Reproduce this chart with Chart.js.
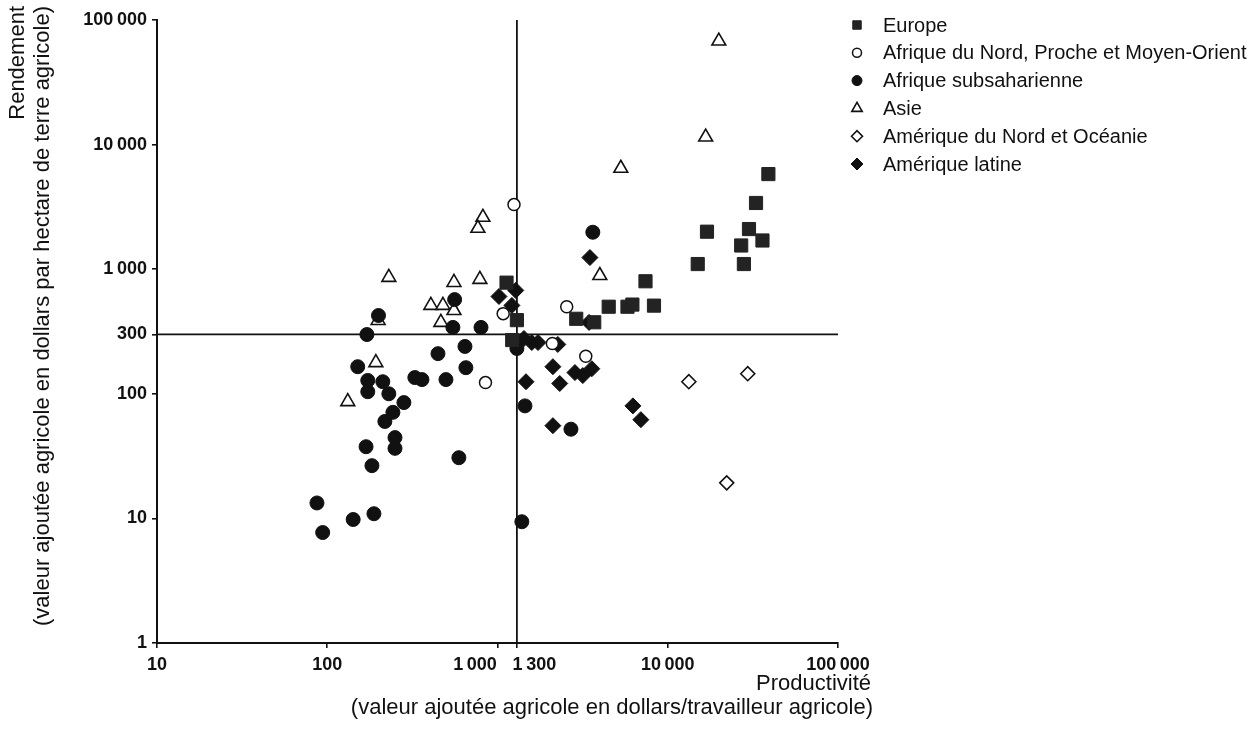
<!DOCTYPE html>
<html lang="fr">
<head>
<meta charset="UTF-8">
<title>Productivité et rendement agricoles</title>
<script src="https://cdn.jsdelivr.net/npm/chart.js"></script>
<style>
  body { margin: 0; background: #fff; }
  #wrap { width: 1258px; height: 749px; position: relative; }
</style>
</head>
<body>
<div id="wrap"><canvas id="chart"></canvas></div>
<script>
// axes (log)
const xTicks = [10, 100, 1000, 1300, 10000, 100000];
const xTickLabels = ['10', '100', '1\u2009000', '1\u2009300', '10\u2009000', '100\u2009000'];
const yTicks = [1, 10, 100, 300, 1000, 10000, 100000];
const yTickLabels = ['1', '10', '100', '300', '1\u2009000', '10\u2009000', '100\u2009000'];

// seuils
const seuilProductivite = 1300;
const seuilRendement = 300;

// points : x = productivité, y = rendement
const europeX = [39000, 33000, 17000, 30000, 36000, 27000, 15000, 28000, 7400, 8300, 5800, 6200, 4500, 3700, 2900, 1130, 1300, 1220];
const europeY = [5800, 3400, 2000, 2100, 1700, 1550, 1100, 1100, 800, 510, 500, 520, 500, 375, 400, 780, 390, 270];

const afriqueNordX = [1250, 1080, 850, 2100, 2550, 3300];
const afriqueNordY = [3300, 440, 123, 253, 500, 200];

const subsaharienneX = [3630, 560, 200, 547, 800, 171, 644, 447, 151, 652, 327, 360, 498, 173, 212, 173, 230, 282, 243, 218, 1450, 2700, 250, 250, 169, 183, 593, 87, 94, 142, 188, 1390, 1300];
const subsaharienneY = [1980, 570, 425, 341, 341, 299, 240, 210, 165, 162, 135, 130, 130, 128, 125, 104, 100, 85, 71, 60, 80, 52, 44.5, 36.5, 37.6, 26.5, 30.7, 13.3, 7.7, 9.8, 10.9, 9.4, 231];

const asieX = [19950, 16700, 5300, 821, 767, 230, 555, 788, 406, 478, 555, 465, 199, 193, 132, 3990];
const asieY = [67800, 11500, 6460, 2610, 2130, 860, 783, 828, 512, 512, 466, 374, 388, 178, 86.5, 890];

const ameriqueNordX = [13300, 29500, 22200];
const ameriqueNordY = [125, 145, 19.3];

const latineX = [3490, 1280, 1020, 1215, 1430, 1590, 1730, 2260, 2115, 2850, 3170, 3580, 1470, 2320, 6240, 6950, 2115, 3450];
const latineY = [1240, 676, 604, 512, 278, 258, 258, 249, 165, 148, 140, 159, 125, 121, 80, 62, 55.5, 374];

const FONT = '"Liberation Sans", Arial, Helvetica, sans-serif';
const INK = '#111';

function pts(xs, ys) {
    return xs.map((x, i) => ({ x: x, y: ys[i] }));
}

const series = [
    { label: 'Europe', data: pts(europeX, europeY), pointStyle: 'rect', pointRadius: 9.3, bg: '#232323', border: '#232323', bw: 1, legendRadius: 6 },
    { label: 'Afrique du Nord, Proche et Moyen-Orient', data: pts(afriqueNordX, afriqueNordY), pointStyle: 'circle', pointRadius: 6, bg: '#fff', border: INK, bw: 1.5, legendRadius: 4.5 },
    { label: 'Afrique subsaharienne', data: pts(subsaharienneX, subsaharienneY), pointStyle: 'circle', pointRadius: 7, bg: INK, border: INK, bw: 1, legendRadius: 5 },
    { label: 'Asie', data: pts(asieX, asieY), pointStyle: 'triangle', pointRadius: 8, bg: '#fff', border: INK, bw: 1.6, legendRadius: 6 },
    { label: 'Amérique du Nord et Océanie', data: pts(ameriqueNordX, ameriqueNordY), pointStyle: 'rectRot', pointRadius: 7, bg: '#fff', border: INK, bw: 1.6, legendRadius: 5.5 },
    { label: 'Amérique latine', data: pts(latineX, latineY), pointStyle: 'rectRot', pointRadius: 8, bg: INK, border: INK, bw: 1, legendRadius: 6 }
];

const datasets = series.map(s => ({
    label: s.label,
    data: s.data,
    pointStyle: s.pointStyle,
    pointRadius: s.pointRadius,
    backgroundColor: s.bg,
    borderColor: s.border,
    borderWidth: s.bw,
    pointHoverRadius: s.pointRadius
}));

// lignes de seuil
datasets.push({
    type: 'line', label: 'seuil rendement',
    data: [{ x: xTicks[0], y: seuilRendement }, { x: xTicks[xTicks.length - 1], y: seuilRendement }],
    borderColor: INK, borderWidth: 1.8, pointRadius: 0, showLine: true, order: 10
});
datasets.push({
    type: 'line', label: 'seuil productivité',
    data: [{ x: seuilProductivite, y: yTicks[0] }, { x: seuilProductivite, y: yTicks[yTicks.length - 1] }],
    borderColor: INK, borderWidth: 1.8, pointRadius: 0, showLine: true, order: 10
});

const sideText = {
    id: 'sideText',
    afterDraw(chart) {
        const ctx = chart.ctx;
        ctx.save();

        // légende
        ctx.font = '20px ' + FONT;
        ctx.textBaseline = 'middle';
        ctx.textAlign = 'left';
        series.forEach((s, i) => {
            const y = 25 + i * 27.8;
            ctx.fillStyle = s.bg;
            ctx.strokeStyle = s.border;
            ctx.lineWidth = s.bw;
            Chart.helpers.drawPoint(ctx, { pointStyle: s.pointStyle, radius: s.legendRadius, borderWidth: s.bw, rotation: 0 }, 857, y);
            ctx.fillStyle = INK;
            ctx.fillText(s.label, 883, y + 1);
        });

        // titre axe x
        ctx.font = '22px ' + FONT;
        ctx.textAlign = 'right';
        ctx.fillText('Productivité', 871, 684);
        ctx.fillText('(valeur ajoutée agricole en dollars/travailleur agricole)', 873, 708);

        // titre axe y
        ctx.translate(18, 6);
        ctx.rotate(-Math.PI / 2);
        ctx.textAlign = 'right';
        ctx.fillText('Rendement', 0, 0);
        ctx.fillText('(valeur ajoutée agricole en dollars par hectare de terre agricole)', 0, 25);
        ctx.restore();
    }
};

const NB = '\u00a0';
const ctx = document.getElementById('chart').getContext('2d');
new Chart(ctx, {
    type: 'scatter',
    data: { datasets: datasets },
    options: {
        responsive: true,
        maintainAspectRatio: false,
        animation: false,
        layout: { padding: { left: 0, top: 20, right: 420, bottom: 0 } },
        plugins: { legend: { display: false }, tooltip: { enabled: false } },
        scales: {
            x: {
                type: 'logarithmic',
                min: xTicks[0],
                max: xTicks[xTicks.length - 1],
                afterBuildTicks: scale => { scale.ticks = xTicks.map(v => ({ value: v })); },
                afterFit: scale => { scale.height = 106; },
                grid: { drawOnChartArea: false, drawTicks: true, tickLength: 5, color: INK, lineWidth: 1.6 },
                border: { display: true, color: INK, width: 2 },
                ticks: {
                    autoSkip: false,
                    maxRotation: 0,
                    padding: 6,
                    color: INK,
                    font: { family: FONT, size: 18, weight: 'bold' },
                    callback: (value, i) => {
                        const lab = xTickLabels[i];
                        if (xTicks[i] === 1000) return lab + NB.repeat(9);
                        if (xTicks[i] === seuilProductivite) return NB.repeat(7) + lab;
                        return lab;
                    }
                }
            },
            y: {
                type: 'logarithmic',
                min: yTicks[0],
                max: yTicks[yTicks.length - 1],
                afterBuildTicks: scale => { scale.ticks = yTicks.map(v => ({ value: v })); },
                afterFit: scale => { scale.width = 157; },
                grid: { drawOnChartArea: false, drawTicks: true, tickLength: 5, color: INK, lineWidth: 1.6 },
                border: { display: true, color: INK, width: 2 },
                ticks: {
                    autoSkip: false,
                    padding: 5,
                    color: INK,
                    font: { family: FONT, size: 18, weight: 'bold' },
                    callback: (value, i) => yTickLabels[i]
                }
            }
        }
    },
    plugins: [sideText]
});
</script>
</body>
</html>
